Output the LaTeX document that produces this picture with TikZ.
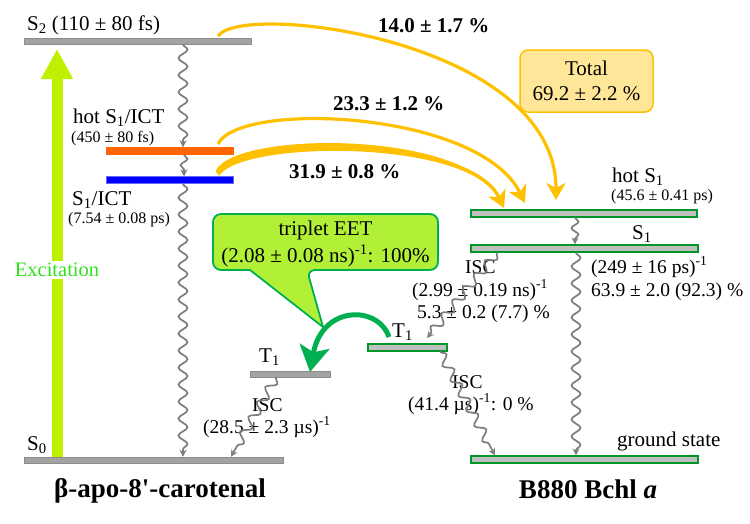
\documentclass[tikz,border=0pt]{standalone}
\usepackage{fontspec}
\setmainfont{Liberation Serif}
\usepackage{tikz}
\usetikzlibrary{arrows.meta}
\usetikzlibrary{decorations.pathmorphing}
\tikzset{>=Stealth}
\definecolor{bargray}{RGB}{163,163,163}
\definecolor{barline}{RGB}{140,140,140}
\definecolor{barlight}{RGB}{192,192,192}
\definecolor{bargreen}{RGB}{0,150,40}
\definecolor{hotorange}{RGB}{255,102,0}
\definecolor{transfer}{RGB}{255,192,0}
\definecolor{totalfill}{RGB}{255,230,153}
\definecolor{eetgreen}{RGB}{0,176,80}
\definecolor{calloutfill}{RGB}{178,240,55}
\definecolor{excgreen}{RGB}{190,240,0}
\definecolor{exctext}{RGB}{50,225,30}
\definecolor{wavegray}{RGB}{125,125,125}
\tikzset{
  bar/.style={rectangle, inner sep=0pt, minimum height=6pt, fill=bargray, draw=barline, line width=0.5pt},
  gbar/.style={bar, minimum height=7pt, fill=barlight, draw=bargreen, line width=1.2pt},
  wave/.style={draw=wavegray, line width=1.7pt, decorate,
    decoration={snake, amplitude=4.5pt, segment length=17pt, post length=5pt},
    -{Stealth[length=7pt,width=7pt]}},
  xfer/.style={draw=transfer, line width=3.2pt, -{Stealth[length=17pt,width=19pt,inset=5pt]}},
  lbl/.style={inner sep=0pt, font=\fontsize{21}{24}\selectfont},
  sml/.style={inner sep=0pt, font=\fontsize{16}{18}\selectfont},
  ann/.style={inner sep=0pt, font=\fontsize{19.5}{22}\selectfont},
  pct/.style={inner sep=0pt, font=\fontsize{21}{24}\selectfont\bfseries},
  ttl/.style={inner sep=0pt, font=\fontsize{27}{30}\selectfont\bfseries}
}

\begin{document}
\begin{tikzpicture}[x=1pt,y=-1pt]
\useasboundingbox (0,0) rectangle (750,523);

% carotenal levels
\node[bar, minimum width=227] (s2) at (137.5,41) {};
\node[bar, minimum width=127, minimum height=7pt, fill=hotorange, draw=hotorange] (hot) at (169.5,151) {};
\node[bar, minimum width=127, minimum height=7pt, fill=blue, draw=blue!60] (ict) at (169.5,180) {};
\node[bar, minimum width=80] (t1l) at (290,374) {};
\node[bar, minimum width=259] (s0) at (153.5,460) {};

% B880 levels
\node[gbar, minimum width=226] (hs1) at (584,213.5) {};
\node[gbar, minimum width=227] (s1) at (584.5,248.5) {};
\node[gbar, minimum width=79] (t1r) at (407.5,347.5) {};
\node[gbar, minimum width=227] (gs) at (584.5,459.5) {};

% labels
\node[lbl, anchor=base west] (ls2) at (27,30) {S\textsubscript{2} (110 ± 80 fs)};
\node[lbl, anchor=base west] (lhot) at (73,123) {hot S\textsubscript{1}/ICT};
\node[sml, anchor=base west] (thot) at (71,142) {(450 ± 80 fs)};
\node[lbl, anchor=base west] (lict) at (72,205) {S\textsubscript{1}/ICT};
\node[sml, anchor=base west] (tict) at (68,223) {(7.54 ± 0.08 ps)};
\node[lbl, anchor=base west] (ls0) at (27,450) {S\textsubscript{0}};
\node[lbl, anchor=base west] (lt1l) at (259,362) {T\textsubscript{1}};
\node[ann, anchor=base west] (isc1) at (252,411) {ISC};
\node[ann, anchor=base west] (tisc1) at (203,433) {(28.5 ± 2.3 µs)\textsuperscript{-1}};

\node[lbl, anchor=base west] (lhs1) at (612,182) {hot S\textsubscript{1}};
\node[sml, anchor=base west] (ths1) at (611,200) {(45.6 ± 0.41 ps)};
\node[lbl, anchor=base west] (ls1) at (632,239) {S\textsubscript{1}};
\node[ann, anchor=base west] (ts1a) at (591,273) {(249 ± 16 ps)\textsuperscript{-1}};
\node[ann, anchor=base west] (ts1b) at (591,296) {63.9 ± 2.0 (92.3) \%};
\node[ann, anchor=base west] (isc2) at (465,273) {ISC};
\node[ann, anchor=base west] (tisc2a) at (412,296) {(2.99 ± 0.19 ns)\textsuperscript{-1}};
\node[ann, anchor=base west] (tisc2b) at (417,318) {5.3 ± 0.2 (7.7) \%};
\node[lbl, anchor=base west] (lt1r) at (392,337) {T\textsubscript{1}};
\node[ann, anchor=base west] (isc3) at (452,388) {ISC};
\node[ann, anchor=base west] (tisc3) at (408,410) {(41.4 µs)\textsuperscript{-1}: 0 \%};
\node[lbl, anchor=base west] (lgs) at (617,446) {ground state};

\node[ttl, anchor=base] (mol1) at (160,497) {β-apo-8\textquotesingle-carotenal};
\node[ttl, anchor=base] (mol2) at (588,498) {B880 Bchl \textit{a}};

% excitation
\coordinate (extop) at (57,49);
\draw[excgreen, line width=11pt, -{Triangle[width=30pt,length=30pt]}] (57,0 |- s0.north) -- (extop);
\node[lbl, fill=white, inner sep=2pt, text=exctext, font=\fontsize{20.5}{24}\selectfont] (exc) at (57,270) {Excitation};

% relaxation
\draw[wave] (183,0 |- s2.south) to (183,0 |- hot.north);
\draw[wave, decoration={snake, amplitude=3.5pt, segment length=13pt, post length=4pt}] (184,0 |- hot.south) to (184,0 |- ict.north);
\draw[wave] (183,0 |- ict.south) to (183,0 |- s0.north);
\draw[wave] (276,0 |- t1l.south) to (231,0 |- s0.north);
\draw[wave, decoration={snake, amplitude=3.5pt, segment length=13pt, post length=4pt}] (575,0 |- hs1.south) to (575,0 |- s1.north);
\draw[wave] (576,0 |- s1.south) to (576,0 |- gs.north);
\draw[wave] (497,0 |- s1.south) to (427,338);
\draw[wave] (440,0 |- t1r.south) to (495,0 |- gs.north);

% energy transfer
\coordinate (o1s) at (218,36);
\coordinate (o1e) at (556,200);
\coordinate (o2s) at (218,144);
\coordinate (o2e) at (525,203);
\coordinate (o3s) at (217,173);
\coordinate (o3e) at (504,208);
\draw[xfer] (o1s) .. controls +(24,-35) and +(0,-160) .. (o1e);
\draw[xfer] (o2s) .. controls +(22,-44) and +(-45,-92) .. (o2e);
\fill[transfer] (216,170) .. controls (239,130) and (468,131) .. (497,197)
  .. controls (467,139) and (241,140) .. (219,176) -- cycle;
\draw[xfer] (o3s) .. controls +(23,-37) and +(-34,-73) .. (o3e);

\node[pct, anchor=base west] (p1) at (378,32) {14.0 ± 1.7 \%};
\node[pct, anchor=base west] (p2) at (333,110) {23.3 ± 1.2 \%};
\node[pct, anchor=base west] (p3) at (289,178) {31.9 ± 0.8 \%};

\node[draw=transfer, fill=totalfill, line width=1.5pt, rounded corners=8pt,
  minimum width=133pt, minimum height=62pt, align=center,
  font=\fontsize{21}{25}\selectfont] (tot) at (586.5,81) {Total\\69.2 ± 2.2 \%};

% triplet EET
\draw[draw=eetgreen, fill=calloutfill, line width=1.8pt, rounded corners=8pt]
  (250,270) -- (213,270) -- (213,214) -- (438,214) -- (438,270) -- (307,270)
  [sharp corners] -- (323,327) -- cycle;
\node[align=center, inner sep=0pt, font=\fontsize{21}{27}\selectfont] (eet) at (325.5,243.5)
  {triplet EET\\(2.08 ± 0.08 ns)\textsuperscript{-1}: 100\%};
\coordinate (eets) at (389,337);
\coordinate (eete) at (310,372);
\draw[eetgreen, line width=5pt, -{Stealth[width=30pt,length=26pt,inset=6pt]}]
  (eets) .. controls +(-11,-32) and +(12,-67) .. (eete);
\end{tikzpicture}
\end{document}
